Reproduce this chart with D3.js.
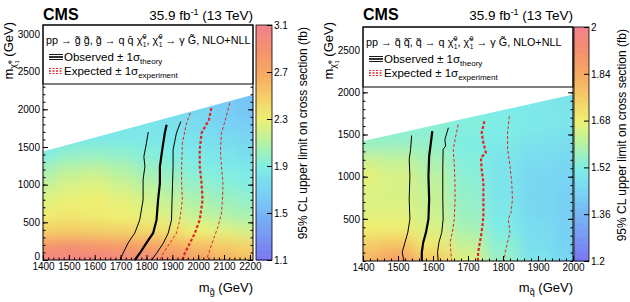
<!DOCTYPE html>
<html>
<head>
<meta charset="utf-8">
<script src="https://cdn.jsdelivr.net/npm/d3@7"></script>
<style>
body { margin: 0; background: #fff; }
svg text { font-family: "Liberation Sans", Arial, sans-serif; }
</style>
</head>
<body>
<svg id="chart" width="630" height="302"></svg>
<script>
// ---- left panel: gluino pair production ----
var glMass = [1400, 1500, 1600, 1700, 1800, 1900, 2000, 2100, 2200];
var glChi  = [0, 200, 400, 600, 800, 1000, 1200, 1400, 1600, 1800, 2000, 2200];
// upper limit (fb), one row per neutralino mass
var glLimit = [
  [3.05, 3.05, 3.05, 3.02, 2.98, 2.90, 2.78, 2.65, 2.58],
  [2.85, 2.88, 2.85, 2.80, 2.75, 2.68, 2.58, 2.50, 2.45],
  [2.48, 2.50, 2.48, 2.46, 2.43, 2.38, 2.30, 2.25, 2.20],
  [2.32, 2.35, 2.33, 2.30, 2.27, 2.22, 2.15, 2.09, 2.05],
  [2.25, 2.29, 2.30, 2.27, 2.22, 2.15, 2.07, 2.02, 1.99],
  [2.15, 2.22, 2.25, 2.19, 2.12, 2.05, 1.99, 1.95, 1.92],
  [2.05, 2.12, 2.15, 2.09, 2.02, 1.97, 1.92, 1.89, 1.85],
  [1.92, 1.98, 2.00, 1.98, 1.93, 1.90, 1.86, 1.82, 1.78],
  [1.80, 1.84, 1.87, 1.87, 1.85, 1.83, 1.80, 1.76, 1.72],
  [1.74, 1.78, 1.80, 1.82, 1.82, 1.80, 1.76, 1.70, 1.66],
  [1.72, 1.75, 1.78, 1.78, 1.78, 1.77, 1.72, 1.66, 1.60],
  [1.70, 1.73, 1.76, 1.76, 1.76, 1.75, 1.70, 1.63, 1.58]
];
var glEdge = [[1400, 1440], [2212, 2192]];
var glObs   = [[1878,1795],[1871,1685],[1861,1463],[1852,1241],[1852,1020],[1845,798],[1839,532],[1826,359],[1800,226],[1775,93],[1755,0]];
var glObsDn = [[1807,1698],[1800,1552],[1790,1374],[1794,1241],[1787,1064],[1787,798],[1774,532],[1755,359],[1729,226],[1710,93],[1697,0]];
var glObsUp = [[1933,1839],[1916,1685],[1903,1463],[1903,1241],[1901,1020],[1899,798],[1897,532],[1884,355],[1865,222],[1839,89],[1820,0]];
var glExp   = [[2051,2017],[2042,1862],[2013,1685],[2006,1463],[2006,1241],[2013,1020],[2017,798],[2006,532],[1987,355],[1968,222],[1948,89],[1939,0]];
var glExpDn = [[1970,1951],[1955,1818],[1939,1552],[1936,1241],[1936,1020],[1939,798],[1929,532],[1916,355],[1890,222],[1865,89],[1852,0]];
var glExpUp = [[2122,2084],[2109,1906],[2090,1685],[2086,1463],[2090,1241],[2096,1020],[2094,798],[2090,621],[2077,443],[2058,266],[2045,133],[2032,0]];
var glXTicks = [1400, 1500, 1600, 1700, 1800, 1900, 2000, 2100, 2200];
var glYTicks = [0, 500, 1000, 1500, 2000, 2500, 3000];
var glZTicks = [1.1, 1.5, 1.9, 2.3, 2.7, 3.1];

// ---- right panel: squark pair production ----
var sqMass = [1400, 1500, 1600, 1700, 1800, 1900, 2000];
var sqChi  = [0, 200, 400, 600, 800, 1000, 1200, 1400, 1600, 1800, 2000];
var sqLimit = [
  [1.82, 1.88, 1.78, 1.66, 1.56, 1.49, 1.45],
  [1.76, 1.78, 1.70, 1.62, 1.54, 1.47, 1.43],
  [1.68, 1.68, 1.65, 1.58, 1.51, 1.46, 1.43],
  [1.66, 1.66, 1.63, 1.56, 1.50, 1.45, 1.43],
  [1.65, 1.65, 1.62, 1.55, 1.49, 1.45, 1.43],
  [1.67, 1.65, 1.61, 1.54, 1.49, 1.45, 1.44],
  [1.63, 1.62, 1.58, 1.53, 1.49, 1.46, 1.45],
  [1.56, 1.56, 1.55, 1.52, 1.50, 1.48, 1.47],
  [1.54, 1.54, 1.54, 1.53, 1.52, 1.50, 1.49],
  [1.52, 1.52, 1.52, 1.52, 1.51, 1.50, 1.49],
  [1.50, 1.51, 1.51, 1.51, 1.50, 1.49, 1.48]
];
var sqEdge = [[1400, 1422], [2000, 1974]];
var sqObs   = [[1598,1540],[1594,1403],[1589,1245],[1587,1008],[1589,733],[1587,496],[1580,339],[1572,221],[1568,103],[1568,0]];
var sqObsDn = [[1539,1489],[1536,1324],[1532,1206],[1534,1008],[1532,733],[1534,496],[1528,339],[1520,221],[1512,103],[1517,0]];
var sqObsUp = [[1644,1580],[1634,1442],[1636,1363],[1629,1324],[1628,1126],[1628,733],[1629,496],[1625,339],[1617,221],[1613,103],[1615,0]];
var sqExp   = [[1747,1658],[1739,1521],[1744,1403],[1751,1285],[1737,1226],[1739,1087],[1744,930],[1744,733],[1744,535],[1739,339],[1734,221],[1729,103],[1728,0]];
var sqExpDn = [[1672,1619],[1663,1442],[1658,1324],[1661,1126],[1663,890],[1663,733],[1661,496],[1655,339],[1649,221],[1651,103],[1653,0]];
var sqExpUp = [[1818,1717],[1813,1521],[1813,1324],[1820,1126],[1825,930],[1827,733],[1823,576],[1815,496],[1820,339],[1813,221],[1806,103],[1804,0]];
var sqXTicks = [1400, 1500, 1600, 1700, 1800, 1900, 2000];
var sqYTicks = [500, 1000, 1500, 2000, 2500];
var sqZTicks = [1.2, 1.36, 1.52, 1.68, 1.84, 2];

// pale rainbow palette (fraction of colour axis -> colour)
var palStops  = [0, 0.1, 0.2, 0.3, 0.4, 0.5, 0.6, 0.7, 0.8, 0.9, 1];
var palColors = ["#7a76f1", "#7896f3", "#76b6f5", "#78d4f4", "#7eeee4", "#b4f2a4",
                 "#eef072", "#f4cc66", "#f6a862", "#f4906e", "#f2818c"];

var FONT = '"Liberation Sans", Arial, sans-serif';
var RED = "#e02424";
var svg = d3.select("#chart");
var defs = svg.append("defs");

// text made of pieces: {t, size, shift (baseline offset, +down), dx}
function rich(sel, parts) {
  var cur = 0;
  parts.forEach(function(p) {
    var ts = sel.append("tspan").text(p.t).attr("font-size", p.size);
    var s = p.shift || 0;
    if (s !== cur) ts.attr("dy", s - cur);
    if (p.dx) ts.attr("dx", p.dx);
    cur = s;
  });
  return sel;
}
function chi(size, shift) {
  // chi-tilde with stacked 0 / 1
  return [{t: "\u03c7\u0303", size: size, shift: shift},
          {t: "0", size: size * 0.62, shift: shift - size * 0.42, dx: 0.5},
          {t: "1", size: size * 0.62, shift: shift + size * 0.3, dx: -size * 0.34}];
}

function range(a, b, s) {
  var r = [];
  for (var v = a; v <= b + 1e-6; v += s) r.push(Math.round(v * 1000) / 1000);
  return r;
}

function panel(c) {
  var x = d3.scaleLinear().domain(c.xDom).range([c.x0, c.x1]);
  var y = d3.scaleLinear().domain(c.yDom).range([c.y1, c.y0]);
  var zFrac = d3.scaleLinear().domain(c.zDom).range([0, 1]).clamp(true);
  var pal = d3.scaleLinear().domain(palStops).range(palColors).interpolate(d3.interpolateRgb);
  var color = function(z) { return pal(zFrac(z)); };

  // clip to the kinematically allowed region
  var clip = [[c.xDom[0], 0], [c.xDom[1], 0], c.edge[1], c.edge[0]];
  defs.append("clipPath").attr("id", "clip" + c.id)
    .append("polygon")
    .attr("points", clip.map(function(p) { return x(p[0]) + "," + y(p[1]); }).join(" "));
  defs.append("filter").attr("id", "blur" + c.id)
    .attr("filterUnits", "userSpaceOnUse")
    .attr("x", 0).attr("y", 0).attr("width", 630).attr("height", 302)
    .append("feGaussianBlur").attr("stdDeviation", c.blur);

  var cells = [];
  c.chi.forEach(function(m2, j) {
    c.mass.forEach(function(m1, i) {
      cells.push({i: i, j: j, m1: m1, m2: m2, z: c.limit[j][i]});
    });
  });
  var dxm = c.mass[1] - c.mass[0], dym = c.chi[1] - c.chi[0];
  var nI = c.mass.length - 1, nJ = c.chi.length - 1;
  var pad = 40;
  svg.append("g").attr("clip-path", "url(#clip" + c.id + ")")
    .append("g").attr("filter", "url(#blur" + c.id + ")")
    .selectAll("rect").data(cells).enter().append("rect")
    .attr("x", function(d) { return x(d.m1 - dxm / 2) - (d.i === 0 ? pad : 0); })
    .attr("width", function(d) { return x(d.m1 + dxm / 2) - x(d.m1 - dxm / 2) + (d.i === 0 || d.i === nI ? pad : 0) + 0.5; })
    .attr("y", function(d) { return y(d.m2 + dym / 2) - (d.j === nJ ? pad : 0); })
    .attr("height", function(d) { return y(d.m2 - dym / 2) - y(d.m2 + dym / 2) + (d.j === 0 || d.j === nJ ? pad : 0) + 0.5; })
    .attr("fill", function(d) { return color(d.z); });

  // limit contours
  var line = d3.line().x(function(d) { return x(d[0]); }).y(function(d) { return y(d[1]); });
  var curves = [
    {d: c.expDn, col: RED, w: 1, dash: "3,2"},
    {d: c.expUp, col: RED, w: 1, dash: "3,2"},
    {d: c.exp, col: RED, w: 2.2, dash: "3,2"},
    {d: c.obsDn, col: "#000", w: 1, dash: null},
    {d: c.obsUp, col: "#000", w: 1, dash: null},
    {d: c.obs, col: "#000", w: 2.2, dash: null}
  ];
  svg.append("g").selectAll("path").data(curves).enter().append("path")
    .attr("d", function(d) { return line(d.d); })
    .attr("fill", "none")
    .attr("stroke", function(d) { return d.col; })
    .attr("stroke-width", function(d) { return d.w; })
    .attr("stroke-dasharray", function(d) { return d.dash; });

  // axes with inward ticks
  function clean(g) { g.select(".domain").remove(); g.attr("font-family", FONT).attr("font-size", 10); }
  svg.append("g").attr("transform", "translate(0," + c.y1 + ")")
    .call(d3.axisBottom(x).tickValues(range(c.xDom[0], c.xDom[1], 20)).tickSize(-2.5).tickFormat("")).call(clean);
  svg.append("g").attr("transform", "translate(0," + c.y1 + ")")
    .call(d3.axisBottom(x).tickValues(c.xTicks).tickSize(-5).tickPadding(3).tickFormat(d3.format("d"))).call(clean);
  svg.append("g").attr("transform", "translate(" + c.x0 + ",0)")
    .call(d3.axisLeft(y).tickValues(range(0, c.yDom[1], 100)).tickSize(-2.5).tickFormat("")).call(clean);
  var yAx = svg.append("g").attr("transform", "translate(" + c.x0 + ",0)")
    .call(d3.axisLeft(y).tickValues(c.yTicks).tickSize(-5).tickPadding(3).tickFormat(d3.format("d"))).call(clean);
  // lift the "0" label so it sits just above the x labels
  yAx.selectAll(".tick text").filter(function(d) { return d === 0; }).attr("dy", "-0.05em");
  svg.append("g").attr("transform", "translate(" + c.x1 + ",0)")
    .call(d3.axisRight(y).tickValues(range(0, c.yDom[1], 100)).tickSize(-2.5).tickFormat("")).call(clean);
  svg.append("g").attr("transform", "translate(" + c.x1 + ",0)")
    .call(d3.axisRight(y).tickValues(c.yTicks).tickSize(-5).tickFormat("")).call(clean);

  // legend box over the top of the frame
  var lg = svg.append("g");
  lg.append("rect").attr("x", c.x0).attr("y", c.y0).attr("width", c.x1 - c.x0).attr("height", c.legH)
    .attr("fill", "#fff").attr("stroke", "#000").attr("stroke-width", 1);
  rich(lg.append("text").attr("x", c.x0 + 3).attr("y", c.y0 + 19).attr("fill", "#000"), c.process);
  var lx0 = c.x0 + 6, lx1 = c.x0 + 20;
  var oy = c.y0 + 32, ey = c.y0 + 46;
  [-2.5, 0, 2.5].forEach(function(o) {
    lg.append("line").attr("x1", lx0).attr("x2", lx1).attr("y1", oy + o).attr("y2", oy + o)
      .attr("stroke", "#000").attr("stroke-width", o === 0 ? 1.6 : 0.9);
    lg.append("line").attr("x1", lx0).attr("x2", lx1).attr("y1", ey + o).attr("y2", ey + o)
      .attr("stroke", RED).attr("stroke-width", o === 0 ? 1.6 : 1).attr("stroke-dasharray", "2,1.5");
  });
  rich(lg.append("text").attr("x", lx1 + 1).attr("y", oy + 4), [
    {t: "Observed \u00b1 1\u03c3", size: 11.5}, {t: "theory", size: 8, shift: 3}]);
  rich(lg.append("text").attr("x", lx1 + 1).attr("y", ey + 4), [
    {t: "Expected \u00b1 1\u03c3", size: 11.5}, {t: "experiment", size: 8, shift: 3}]);

  svg.append("rect").attr("x", c.x0).attr("y", c.y0).attr("width", c.x1 - c.x0).attr("height", c.y1 - c.y0)
    .attr("fill", "none").attr("stroke", "#000").attr("stroke-width", 1);

  // colour bar
  var zy = d3.scaleLinear().domain(c.zDom).range([c.y1, c.y0]);
  var steps = range(0, 99, 1);
  var dz = (c.zDom[1] - c.zDom[0]) / 100;
  svg.append("g").selectAll("rect").data(steps).enter().append("rect")
    .attr("x", c.cb0).attr("width", c.cb1 - c.cb0)
    .attr("y", function(k) { return zy(c.zDom[0] + (k + 1) * dz); })
    .attr("height", function(k) { return zy(c.zDom[0] + k * dz) - zy(c.zDom[0] + (k + 1) * dz) + 0.6; })
    .attr("fill", function(k) { return color(c.zDom[0] + (k + 0.5) * dz); });
  svg.append("rect").attr("x", c.cb0).attr("y", c.y0).attr("width", c.cb1 - c.cb0).attr("height", c.y1 - c.y0)
    .attr("fill", "none").attr("stroke", "#000").attr("stroke-width", 0.8);
  svg.append("g").attr("transform", "translate(" + c.cb1 + ",0)")
    .call(d3.axisRight(zy).tickValues(c.zTicks).tickSize(-5).tickPadding(2)
      .tickFormat(function(d) { return String(+d.toFixed(2)); })).call(clean);

  // titles
  svg.append("text").attr("x", c.x0).attr("y", 20).attr("font-size", 16).attr("font-weight", "bold").text("CMS");
  rich(svg.append("text").attr("x", c.x1).attr("y", 20).attr("text-anchor", "end"), [
    {t: "35.9 fb", size: 13.5}, {t: "-1", size: 9, shift: -5}, {t: " (13 TeV)", size: 13.5}]);
  rich(svg.append("text").attr("x", c.x1).attr("y", 292).attr("text-anchor", "end"), [
    {t: "m", size: 13}, {t: c.sparticle, size: 9, shift: 3}, {t: " (GeV)", size: 13}]);
  rich(svg.append("text").attr("text-anchor", "end")
    .attr("transform", "translate(" + c.yTitleX + ",22) rotate(-90)"),
    [{t: "m", size: 13}].concat(chi(9, 3)).concat([{t: " (GeV)", size: 13}]));
  svg.append("text").attr("text-anchor", "end").attr("font-size", 12)
    .attr("transform", "translate(" + c.zTitleX + "," + (c.y0 + 2) + ") rotate(-90)")
    .text("95% CL upper limit on cross section (fb)");
}

var arrow = " \u2192 ";
panel({
  id: "L", x0: 43, x1: 253, y0: 25, y1: 260, xDom: [1400, 2212], yDom: [0, 3119], zDom: [1.1, 3.1],
  mass: glMass, chi: glChi, limit: glLimit, edge: glEdge, blur: 6,
  obs: glObs, obsDn: glObsDn, obsUp: glObsUp, exp: glExp, expDn: glExpDn, expUp: glExpUp,
  xTicks: glXTicks, yTicks: glYTicks, zTicks: glZTicks, legH: 59,
  cb0: 256, cb1: 272, yTitleX: 13, zTitleX: 307, sparticle: "g\u0303",
  process: [{t: "pp" + arrow + "g\u0303 g\u0303, g\u0303" + arrow + "q q\u0304 ", size: 10.8}]
    .concat(chi(10.8, 0)).concat([{t: ", ", size: 10.8}]).concat(chi(10.8, 0))
    .concat([{t: arrow + "\u03b3 G\u0303,  NLO+NLL", size: 10.8}])
});
panel({
  id: "R", x0: 363, x1: 573, y0: 27, y1: 261, xDom: [1400, 2000], yDom: [0, 2775], zDom: [1.2, 2.0],
  mass: sqMass, chi: sqChi, limit: sqLimit, edge: sqEdge, blur: 7,
  obs: sqObs, obsDn: sqObsDn, obsUp: sqObsUp, exp: sqExp, expDn: sqExpDn, expUp: sqExpUp,
  xTicks: sqXTicks, yTicks: sqYTicks, zTicks: sqZTicks, legH: 60,
  cb0: 574, cb1: 589, yTitleX: 333, zTitleX: 626, sparticle: "q\u0303",
  process: [{t: "pp" + arrow + "q\u0303 q\u0303\u0304, q\u0303" + arrow + "q ", size: 10.8}]
    .concat(chi(10.8, 0)).concat([{t: ", ", size: 10.8}]).concat(chi(10.8, 0))
    .concat([{t: arrow + "\u03b3 G\u0303,  NLO+NLL", size: 10.8}])
});
</script>
</body>
</html>
